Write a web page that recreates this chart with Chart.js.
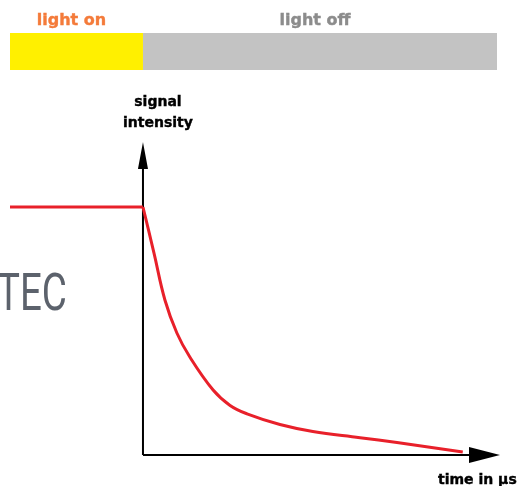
<!DOCTYPE html>
<html>
<head>
<meta charset="utf-8">
<script src="https://cdn.jsdelivr.net/npm/chart.js@4.4.1/dist/chart.umd.min.js"></script>
<style>
  html, body { margin: 0; padding: 0; background: #fff; }
  #wrap { position: relative; width: 518px; height: 486px; }
</style>
</head>
<body>
<div id="wrap"><canvas id="chart"></canvas></div>
<script>
// Time (arbitrary units, 0 = light switched off) and signal intensity (%)
const onTimes     = [-40, 0];
const onSignal    = [100, 100];
const decayTimes  = [0, 3.3, 6.6, 10.2, 14.1, 21.1, 26.2, 31.3, 41.2, 51.1, 65.3, 76.4, 96.2];
const decaySignal = [100, 81.5, 62.5, 49.2, 39.5, 26.2, 20.0, 16.6, 12.3, 9.5, 7.0, 5.0, 1.2];

// Illumination phases along the same time axis
const phaseLabels = ['light on', 'light off'];
const phaseStart  = [-40, 0];
const phaseEnd    = [0, 106.5];
const phaseColors = ['#fff000', '#c3c3c3'];
const phaseText   = ['#f47b3a', '#8c8c8c'];

const xTitle = 'time in µs';
const yTitle = ['signal', 'intensity'];

// bold text drawn a little heavier, like the original artwork
function heavyText(ctx, str, px, py) {
    ctx.lineWidth = 0.4;
    ctx.strokeStyle = ctx.fillStyle;
    ctx.fillText(str, px, py);
    ctx.strokeText(str, px, py);
}

// Axes with arrows, phase bar and labels
const decor = {
    id: 'decor',
    beforeDatasetsDraw(chart) {
        const { ctx, scales: { x, y } } = chart;
        const x0 = x.getPixelForValue(0);
        const y0 = y.getPixelForValue(0);
        ctx.save();

        // phase bar
        phaseLabels.forEach((lab, i) => {
            const a = x.getPixelForValue(phaseStart[i]);
            const b = x.getPixelForValue(phaseEnd[i]);
            ctx.fillStyle = phaseColors[i];
            ctx.fillRect(a, 33, b - a, 37);
            ctx.fillStyle = phaseText[i];
            ctx.font = 'bold 16px "DejaVu Sans"';
            ctx.textAlign = 'center';
            ctx.textBaseline = 'alphabetic';
            heavyText(ctx, lab, (a + b) / 2 - 5, 25);
        });

        // watermark text, cut at the left edge
        ctx.save();
        ctx.fillStyle = '#5c626c';
        ctx.font = '400 52px Roboto';
        ctx.textAlign = 'left';
        ctx.scale(0.74, 1);
        ctx.fillText('TEC', -4, 310);
        ctx.restore();

        // axes
        ctx.strokeStyle = '#000';
        ctx.lineWidth = 2;
        ctx.beginPath();
        ctx.moveTo(x0, y0);
        ctx.lineTo(x0, y.top + 25);
        ctx.moveTo(x0, y0);
        ctx.lineTo(x.right - 30, y0);
        ctx.stroke();

        ctx.fillStyle = '#000';
        ctx.beginPath();
        ctx.moveTo(x0, y.top - 1);
        ctx.lineTo(x0 - 5, y.top + 26);
        ctx.lineTo(x0 + 5, y.top + 26);
        ctx.closePath();
        ctx.fill();
        ctx.beginPath();
        ctx.moveTo(x.right, y0);
        ctx.lineTo(x.right - 31, y0 - 8);
        ctx.lineTo(x.right - 31, y0 + 8);
        ctx.closePath();
        ctx.fill();

        // axis titles
        ctx.font = 'bold 14px "DejaVu Sans"';
        ctx.textAlign = 'center';
        ctx.textBaseline = 'middle';
        heavyText(ctx, yTitle[0], x0 + 15, 102);
        heavyText(ctx, yTitle[1], x0 + 15, 123);
        ctx.textAlign = 'left';
        heavyText(ctx, xTitle, 438, 480);
        ctx.restore();
    }
};

const lineStyle = {
    borderColor: '#e8202a',
    borderWidth: 3,
    pointRadius: 0,
    tension: 0.4,
    fill: false,
    clip: false
};

new Chart(document.getElementById('chart'), {
    type: 'line',
    data: {
        datasets: [
            { ...lineStyle, tension: 0, data: onTimes.map((t, i) => ({ x: t, y: onSignal[i] })) },
            { ...lineStyle, data: decayTimes.map((t, i) => ({ x: t, y: decaySignal[i] })) }
        ]
    },
    options: {
        responsive: true, maintainAspectRatio: false,
        animation: false,
        layout: { padding: { left: 10, right: 18, top: 143, bottom: 31 } },
        plugins: { legend: { display: false }, tooltip: { enabled: false } },
        scales: {
            x: { type: 'linear', display: false, min: -40, max: 107.4 },
            y: { display: false, min: 0, max: 125.8 }
        }
    },
    plugins: [decor]
});
</script>
</body>
</html>
